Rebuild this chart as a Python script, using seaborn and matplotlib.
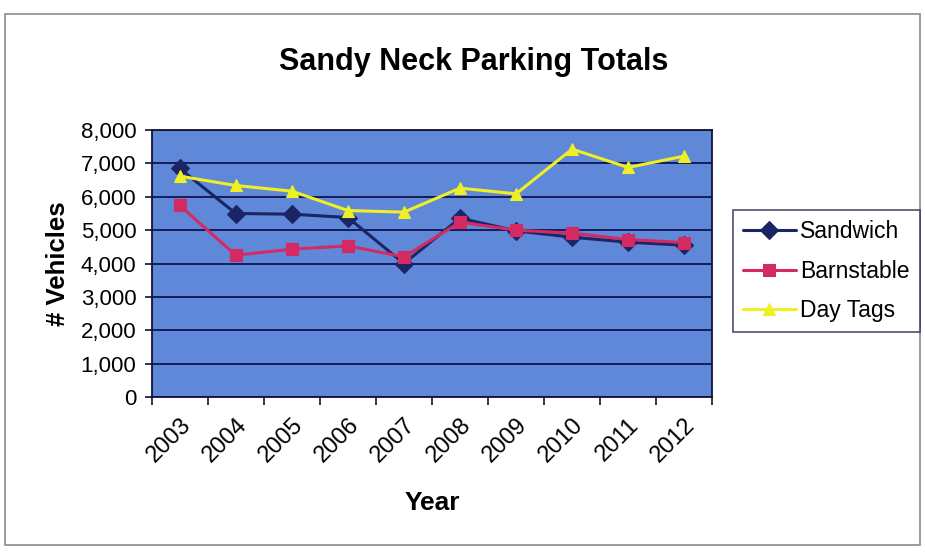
import matplotlib
matplotlib.use("Agg")
import matplotlib.pyplot as plt
import seaborn as sns
import pandas as pd
import numpy as np
from matplotlib.ticker import FuncFormatter, MultipleLocator, FixedLocator
from matplotlib.patches import Rectangle

years = ["2003", "2004", "2005", "2006", "2007", "2008", "2009", "2010", "2011", "2012"]
sandwich = [6850, 5500, 5480, 5380, 4000, 5360, 4980, 4790, 4640, 4550]
barnstable = [5740, 4250, 4430, 4530, 4200, 5240, 5000, 4910, 4720, 4630]
day_tags = [6620, 6340, 6170, 5590, 5540, 6260, 6090, 7430, 6880, 7220]
series_names = ["Sandwich", "Barnstable", "Day Tags"]

rows = []
for name, vals in zip(series_names, [sandwich, barnstable, day_tags]):
    for i, (yr, v) in enumerate(zip(years, vals)):
        rows.append({"pos": i, "Year": yr, "Series": name, "Vehicles": v})
df = pd.DataFrame(rows)

sns.set_theme(style="white", rc={"text.color": "black", "axes.labelcolor": "black",
                                 "xtick.color": "black", "ytick.color": "black"})
plt.rcParams["font.family"] = ["Liberation Sans", "DejaVu Sans"]

fig = plt.figure(figsize=(9.25, 5.56), dpi=100)
fig.patch.set_facecolor("white")
ax = fig.add_axes([0.164, 0.286, 0.606, 0.480])
ax.set_facecolor("#5f88d8")

palette = {"Sandwich": "#1b2464", "Barnstable": "#d42a64", "Day Tags": "#eef024"}
markers = {"Sandwich": "D", "Barnstable": "s", "Day Tags": "^"}
sns.lineplot(data=df, x="pos", y="Vehicles", hue="Series", style="Series",
             palette=palette, markers=markers, dashes=False, linewidth=2.2,
             markersize=9, markeredgewidth=0.8, ax=ax, legend=True)
for line in ax.lines:
    line.set_markeredgecolor(line.get_color())

ax.set_xlim(-0.5, 9.5)
ax.set_ylim(0, 8000)
ax.yaxis.set_major_locator(MultipleLocator(1000))
ax.yaxis.set_major_formatter(FuncFormatter(lambda v, p: f"{int(v):,}"))
ax.grid(axis="y", color="#141c5c", linewidth=1.4)
ax.set_axisbelow(True)
for s in ax.spines.values():
    s.set_color("#111133")
    s.set_linewidth(1.3)

ax.set_xticks(range(len(years)))
ax.set_xticklabels(years, rotation=45, ha="right", rotation_mode="anchor",
                   fontsize=17)
ax.xaxis.set_minor_locator(FixedLocator(np.arange(-0.5, 10, 1)))
ax.tick_params(axis="x", which="major", length=0, pad=12, labelcolor="black")
ax.tick_params(axis="x", which="minor", length=6, width=1.2, color="#111133", bottom=True)
ax.tick_params(axis="y", length=5, width=1.2, color="#111133", left=True, labelsize=16,
               pad=6, labelcolor="black")

ax.set_xlabel("Year", fontsize=19, fontweight="bold", labelpad=18, color="black")
ax.set_ylabel("# Vehicles", fontsize=18.5, fontweight="bold", labelpad=8, color="black")
fig.suptitle("Sandy Neck Parking Totals", x=0.512, y=0.915, fontsize=22,
             fontweight="bold", color="black")

handles, labels = ax.get_legend_handles_labels()
leg = fig.legend(handles, labels, loc="upper left", bbox_to_anchor=(0.792, 0.622),
                 fontsize=16.5, frameon=True, fancybox=False, edgecolor="#222244",
                 borderpad=0.45, labelspacing=0.7, handlelength=2.3, handletextpad=0.2,
                 borderaxespad=0.0)
leg.get_frame().set_linewidth(1.2)
for t in leg.get_texts():
    t.set_color("black")
if ax.get_legend():
    ax.get_legend().remove()

fig.add_artist(Rectangle((0.005, 0.02), 0.99, 0.955, transform=fig.transFigure,
                         fill=False, edgecolor="#8a8a9a", linewidth=1.2))

fig.savefig("out.png", dpi=100)
